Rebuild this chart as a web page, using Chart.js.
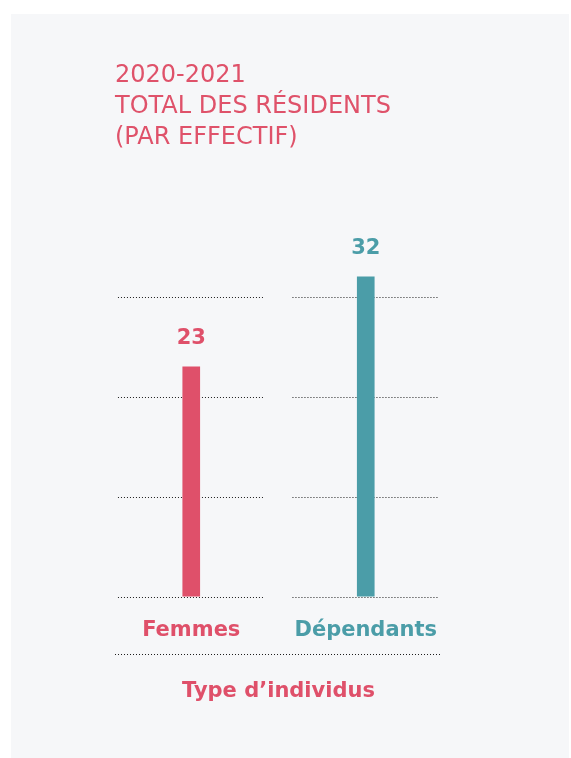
<!DOCTYPE html>
<html lang="fr">
<head>
<meta charset="utf-8">
<title>Total des résidents 2020-2021</title>
<script src="https://cdn.jsdelivr.net/npm/chart.js@4/dist/chart.umd.min.js"></script>
<style>
    html, body {
        margin: 0;
        padding: 0;
        background: #ffffff;
    }
    #wrap {
        position: relative;
        width: 571px;
        height: 758px;
    }
    #residentsChart {
        position: absolute;
        left: 0;
        top: 0;
    }
    #chartTitle {
        position: absolute;
        left: 115px;
        top: 59px;
        font-family: 'DejaVu Sans', sans-serif;
        font-size: 24px;
        line-height: 31px;
        color: #df526a;
        z-index: 2;
    }
</style>
</head>
<body>
<div id="wrap">
    <canvas id="residentsChart" width="571" height="758"></canvas>
    <div id="chartTitle">2020-2021<br>TOTAL DES RÉSIDENTS<br>(PAR EFFECTIF)</div>
</div>
<script>
const categories = ['Femmes', 'Dépendants'];
const residentCounts = [23, 32];
const gridValues = [0, 10, 20, 30];
const axisTitle = 'Type d\u2019individus';

const barColors = ['#df506a', '#4b9da8'];
const panelColor = '#f6f7f9';

// panel background, dotted grid split per category, value labels
const decorPlugin = {
    id: 'decor',
    beforeDraw(chart) {
        const ctx = chart.ctx;
        ctx.save();
        ctx.fillStyle = panelColor;
        ctx.fillRect(11, 14, 558, 744);
        ctx.restore();
    },
    beforeDatasetsDraw(chart) {
        const ctx = chart.ctx;
        const x = chart.scales.x;
        const y = chart.scales.y;
        const area = chart.chartArea;
        const half = (x.right - x.left) / categories.length * 0.42;

        ctx.save();
        ctx.strokeStyle = '#1e1e1e';
        ctx.lineWidth = 1;
        ctx.setLineDash([1, 2]);
        categories.forEach((c, i) => {
            const cx = x.getPixelForValue(i);
            gridValues.forEach(v => {
                const py = Math.round(y.getPixelForValue(v)) + 0.5;
                ctx.beginPath();
                ctx.moveTo(cx - half, py);
                ctx.lineTo(cx + half, py);
                ctx.stroke();
            });
        });
        // line between the category labels and the axis title
        const ly = Math.round(area.bottom + 57) + 0.5;
        ctx.beginPath();
        ctx.moveTo(area.left + 11, ly);
        ctx.lineTo(area.right - 11, ly);
        ctx.stroke();
        ctx.restore();
    },
    afterDatasetsDraw(chart) {
        const ctx = chart.ctx;
        const meta = chart.getDatasetMeta(0);
        ctx.save();
        ctx.font = 'bold 21px "DejaVu Sans"';
        ctx.textAlign = 'center';
        ctx.textBaseline = 'alphabetic';
        meta.data.forEach((bar, i) => {
            ctx.fillStyle = barColors[i];
            ctx.fillText(String(residentCounts[i]), bar.x, bar.y - 23);
        });
        ctx.restore();
    }
};

function initializeChart() {
    new Chart(document.getElementById('residentsChart'), {
        type: 'bar',
        data: {
            labels: categories,
            datasets: [{
                label: 'Résidents',
                data: residentCounts,
                backgroundColor: barColors,
                borderWidth: 0,
                barThickness: 17
            }]
        },
        options: {
            responsive: false,
            animation: false,
            layout: {
                padding: { top: 197, left: 104, right: 118, bottom: 54 }
            },
            plugins: {
                legend: { display: false },
                tooltip: { enabled: false }
            },
            scales: {
                x: {
                    grid: { display: false, drawTicks: false },
                    border: { display: false },
                    ticks: {
                        padding: 21,
                        color: ctx => barColors[ctx.index],
                        font: { family: 'DejaVu Sans', size: 21, weight: 'bold' }
                    },
                    title: {
                        display: true,
                        text: axisTitle,
                        color: barColors[0],
                        padding: { top: 15, bottom: 0 },
                        font: { family: 'DejaVu Sans', size: 21, weight: 'bold' }
                    }
                },
                y: {
                    display: false,
                    min: 0,
                    max: 40
                }
            }
        },
        plugins: [decorPlugin]
    });
}

document.addEventListener('DOMContentLoaded', initializeChart);
</script>
</body>
</html>
